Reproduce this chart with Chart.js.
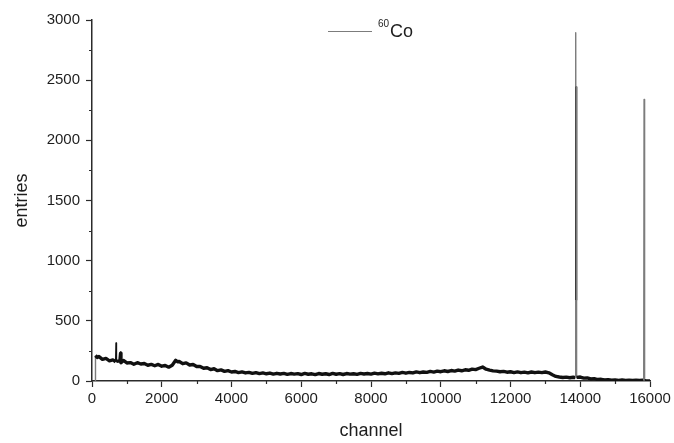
<!DOCTYPE html>
<html>
<head>
<meta charset="utf-8">
<title>60Co spectrum</title>
<script src="https://cdn.jsdelivr.net/npm/chart.js@4.4.1/dist/chart.umd.min.js"></script>
<style>
  html, body { margin: 0; padding: 0; background: #fff; }
  #wrap { width: 674px; height: 443px; }
</style>
</head>
<body>
<div id="wrap"><canvas id="specChart" width="674" height="443"></canvas></div>
<script>
// 60Co 스펙트럼 (channel / entries)
const channel = [
  90, 100, 150, 200, 300, 400, 500, 600, 680, 690, 700, 800, 820, 830, 900,
  1000, 1100, 1200, 1300, 1400, 1500, 1600, 1700, 1800, 1900,
  2000, 2100, 2200, 2300, 2400, 2450, 2500, 2600, 2700, 2800, 2900,
  3000, 3100, 3200, 3300, 3400, 3500, 3600, 3700, 3800, 3900,
  4000, 4100, 4200, 4300, 4400, 4500, 4600, 4700, 4800, 4900,
  5000, 5100, 5200, 5300, 5400, 5500, 5600, 5700, 5800, 5900,
  6000, 6100, 6200, 6300, 6400, 6500, 6600, 6700, 6800, 6900,
  7000, 7100, 7200, 7300, 7400, 7500, 7600, 7700, 7800, 7900,
  8000, 8100, 8200, 8300, 8400, 8500, 8600, 8700, 8800, 8900,
  9000, 9100, 9200, 9300, 9400, 9500, 9600, 9700, 9800, 9900,
  10000, 10100, 10200, 10300, 10400, 10500, 10600, 10700, 10800, 10900,
  11000, 11100, 11200, 11300, 11400, 11500, 11600, 11700, 11800, 11900,
  12000, 12100, 12200, 12300, 12400, 12500, 12600, 12700, 12800, 12900,
  13000, 13100, 13200, 13300, 13400, 13500, 13600, 13700, 13800,
  13860, 13870, 13880, 13885, 13895,
  14000, 14100, 14200, 14300, 14400, 14500, 14600, 14700, 14800, 14900,
  15000, 15100, 15200, 15300, 15400, 15500, 15600, 15700, 15800,
  15820, 15830, 15845, 15900, 16000
];
const entries = [
  0, 212, 196, 203, 180, 188, 168, 175, 160, 316, 163, 168, 232, 152, 171,
  150, 153, 139, 152, 141, 145, 131, 138, 127, 138,
  123, 129, 115, 131, 172, 160, 162, 144, 151, 133, 137,
  120, 121, 106, 110, 95, 102, 86, 92, 80, 86,
  75, 79, 70, 76, 67, 72, 63, 70, 61, 67,
  60, 66, 57, 64, 58, 63, 55, 62, 57, 61,
  54, 63, 56, 60, 53, 62, 56, 60, 54, 63,
  56, 61, 54, 62, 57, 60, 55, 63, 58, 62,
  57, 65, 59, 64, 60, 68, 61, 67, 63, 71,
  65, 71, 67, 76, 69, 75, 72, 80, 74, 82,
  77, 85, 79, 87, 82, 91, 85, 93, 89, 99,
  95, 106, 116, 98, 90, 84, 82, 77, 80, 73,
  77, 70, 76, 69, 74, 68, 75, 69, 74, 70,
  75, 68, 52, 38, 33, 29, 32, 27, 31,
  28, 2895, 673, 2446, 30,
  33, 24, 26, 17, 20, 12, 14, 8, 11, 6,
  9, 5, 8, 4, 7, 4, 6, 4, 6,
  5, 2340, 2, 0, 0
];

const xTicks = [0, 2000, 4000, 6000, 8000, 10000, 12000, 14000, 16000];
const yTicks = [0, 500, 1000, 1500, 2000, 2500, 3000];

const AXIS_COLOR = '#2b2b2b';
const TEXT_COLOR = '#1e1e1e';
const LINE_COLOR = '#111111';
const PEAK_COLOR = '#7c7c7c';
const FONT = 'Liberation Sans, Arial, sans-serif';

// 세그먼트 높이 차이 (카운트)
const jump = (ctx) => Math.abs(ctx.p1.parsed.y - ctx.p0.parsed.y);
// 피크 중간 구간 (600 ~ 2500 사이) 은 진하게
const peakCore = (ctx) => {
  const lo = Math.min(ctx.p0.parsed.y, ctx.p1.parsed.y);
  const hi = Math.max(ctx.p0.parsed.y, ctx.p1.parsed.y);
  return lo > 600 && hi < 2500 && hi - lo > 1000;
};

// 보조 눈금 (라벨 없는 짧은 눈금)
const minorTicks = {
  id: 'minorTicks',
  afterDraw(chart) {
    const { ctx, scales: { x, y } } = chart;
    ctx.save();
    ctx.strokeStyle = AXIS_COLOR;
    ctx.lineWidth = 1.2;
    ctx.beginPath();
    x.ticks.forEach(t => {
      if (xTicks.includes(t.value)) return;
      const px = Math.round(x.getPixelForValue(t.value)) + 0.5;
      ctx.moveTo(px, x.top);
      ctx.lineTo(px, x.top + 3);
    });
    y.ticks.forEach(t => {
      if (yTicks.includes(t.value)) return;
      const py = Math.round(y.getPixelForValue(t.value)) + 0.5;
      ctx.moveTo(y.right, py);
      ctx.lineTo(y.right - 3, py);
    });
    ctx.stroke();
    ctx.restore();
  }
};

// 범례: 선 + 위첨자 "60" + "Co"
const isotopeLegend = {
  id: 'isotopeLegend',
  afterDraw(chart) {
    const { ctx, chartArea: { left, top } } = chart;
    const lx = left + 236, ly = top + 11;
    ctx.save();
    ctx.strokeStyle = PEAK_COLOR;
    ctx.lineWidth = 1.2;
    ctx.beginPath();
    ctx.moveTo(lx, ly + 0.5);
    ctx.lineTo(lx + 44, ly + 0.5);
    ctx.stroke();
    ctx.fillStyle = TEXT_COLOR;
    ctx.textBaseline = 'alphabetic';
    ctx.textAlign = 'left';
    ctx.font = `10px ${FONT}`;
    ctx.fillText('60', lx + 50, ly - 4);
    ctx.font = `18px ${FONT}`;
    ctx.fillText('Co', lx + 62, ly + 6);
    ctx.restore();
  }
};

function renderSpectrum() {
  const ctx = document.getElementById('specChart').getContext('2d');
  new Chart(ctx, {
    type: 'line',
    data: {
      datasets: [{
        label: '60Co',
        data: channel.map((c, i) => ({ x: c, y: entries[i] })),
        borderColor: LINE_COLOR,
        borderWidth: 3.4,
        borderJoinStyle: 'round',
        pointRadius: 0,
        tension: 0,
        segment: {
          // 피크 선은 회색 얇은 선, 작은 스파이크는 검은 얇은 선
          borderColor: c => peakCore(c) ? LINE_COLOR : (jump(c) > 200 ? PEAK_COLOR : undefined),
          borderWidth: c => peakCore(c) ? 2 : (jump(c) > 200 ? 1.4 : (jump(c) > 100 ? 1.5 : undefined))
        }
      }]
    },
    options: {
      responsive: false,
      animation: false,
      layout: { padding: { top: 20, right: 24, left: 0, bottom: 0 } },
      plugins: { legend: { display: false }, tooltip: { enabled: false } },
      scales: {
        x: {
          type: 'linear',
          min: 0, max: 16000,
          afterFit: s => { s.height = 62; s.paddingRight = 24; },
          ticks: {
            stepSize: 1000, autoSkip: false, maxRotation: 0, minRotation: 0,
            padding: 3, color: TEXT_COLOR, font: { family: FONT, size: 15 },
            callback: v => xTicks.includes(v) ? String(v) : ''
          },
          grid: {
            drawOnChartArea: false, drawTicks: true, tickLength: 6, tickWidth: 1.2,
            tickColor: c => xTicks.includes(c.tick && c.tick.value) ? AXIS_COLOR : 'rgba(0,0,0,0)'
          },
          border: { color: AXIS_COLOR, width: 1.5 },
          title: { display: true, text: 'channel', color: TEXT_COLOR, font: { family: FONT, size: 18 }, padding: { top: 0, bottom: 1 } }
        },
        y: {
          min: 0, max: 3000,
          afterFit: s => { s.width = 92; },
          ticks: {
            stepSize: 250, autoSkip: false,
            padding: 6, color: TEXT_COLOR, font: { family: FONT, size: 15 },
            callback: v => yTicks.includes(v) ? String(v) : ''
          },
          grid: {
            drawOnChartArea: false, drawTicks: true, tickLength: 6, tickWidth: 1.2,
            tickColor: c => yTicks.includes(c.tick && c.tick.value) ? AXIS_COLOR : 'rgba(0,0,0,0)'
          },
          border: { color: AXIS_COLOR, width: 1.5 },
          title: { display: true, text: 'entries', color: TEXT_COLOR, font: { family: FONT, size: 18 }, padding: { top: 11, bottom: 0 } }
        }
      }
    },
    plugins: [minorTicks, isotopeLegend]
  });
}

renderSpectrum();
</script>
</body>
</html>
